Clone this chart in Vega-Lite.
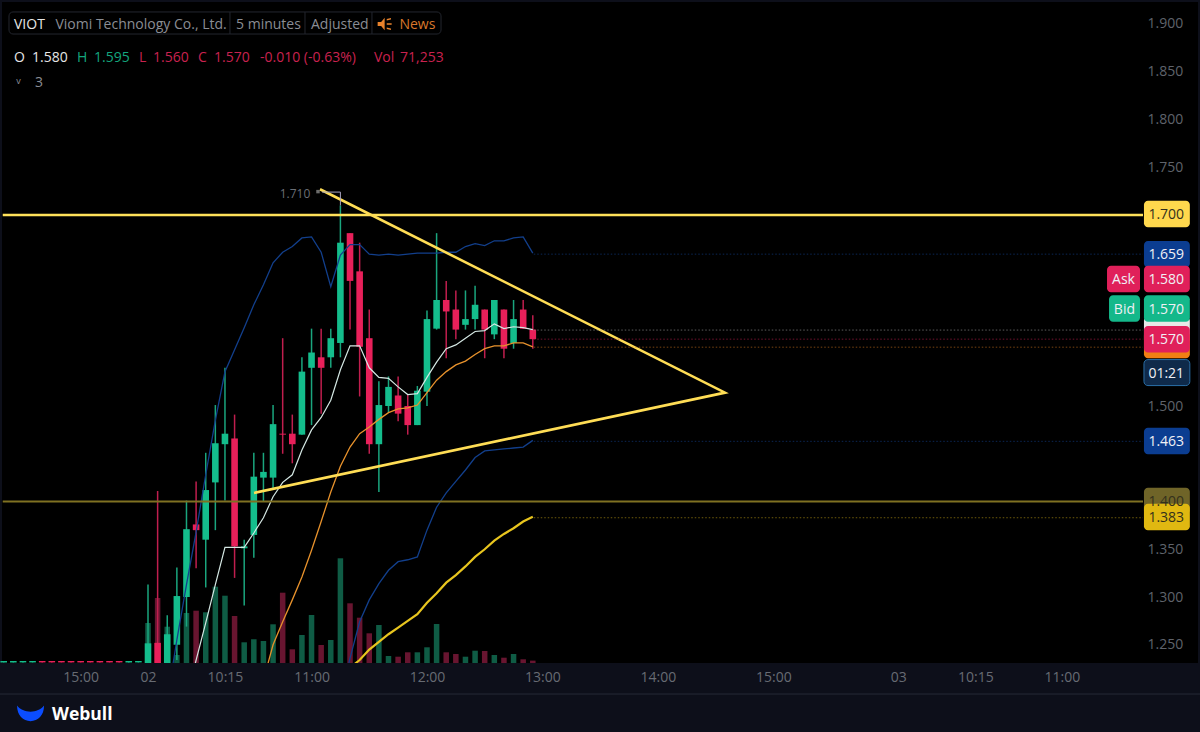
{"$schema":"https://vega.github.io/schema/vega-lite/v6.json","width":1200,"height":732,"autosize":{"type":"none"},"padding":0,"background":"#0d0f1a",
"config":{"view":{"fill":"#000000","stroke":"#0d0f1a","strokeWidth":4},"font":"Open Sans","scale":{"continuousPadding":0},"axis":{"title":null}},
"data":{"values":[
{"i":-15,"o":1.2315,"h":1.233,"l":1.2315,"c":1.233},{"i":-14,"o":1.2315,"h":1.233,"l":1.2315,"c":1.233},{"i":-13,"o":1.2315,"h":1.233,"l":1.2315,"c":1.233},{"i":-12,"o":1.2315,"h":1.233,"l":1.2315,"c":1.233},{"i":-11,"o":1.233,"h":1.233,"l":1.2315,"c":1.2315},{"i":-10,"o":1.233,"h":1.233,"l":1.2315,"c":1.2315},{"i":-9,"o":1.233,"h":1.233,"l":1.2315,"c":1.2315},{"i":-8,"o":1.233,"h":1.233,"l":1.2315,"c":1.2315},{"i":-7,"o":1.233,"h":1.233,"l":1.2315,"c":1.2315},{"i":-6,"o":1.233,"h":1.233,"l":1.2315,"c":1.2315},{"i":-5,"o":1.233,"h":1.233,"l":1.2315,"c":1.2315},{"i":-4,"o":1.233,"h":1.233,"l":1.2315,"c":1.2315},{"i":-3,"o":1.233,"h":1.233,"l":1.2315,"c":1.2315},{"i":-2,"o":1.2315,"h":1.233,"l":1.2315,"c":1.233},{"i":-1,"o":1.2315,"h":1.233,"l":1.2315,"c":1.233},
{"i":0,"o":1.2,"h":1.313,"l":1.2,"c":1.2515,"v":1200000},
{"i":1,"o":1.252,"h":1.411,"l":1.2,"c":1.2,"v":1950000},
{"i":2,"o":1.2,"h":1.281,"l":1.2,"c":1.261,"v":1089000,"u":1.192},
{"i":3,"o":1.25,"h":1.331,"l":1.234,"c":1.301,"v":240000,"u":1.255},
{"i":4,"o":1.3,"h":1.401,"l":1.269,"c":1.371,"v":1500000,"u":1.313,"w":1.192},
{"i":5,"o":1.376,"h":1.421,"l":1.33,"c":1.37,"v":1569000,"u":1.368,"w":1.234},
{"i":6,"o":1.36,"h":1.451,"l":1.31,"c":1.412,"v":1521000,"u":1.428,"w":1.273},
{"i":7,"o":1.42,"h":1.501,"l":1.37,"c":1.461,"v":2289000,"u":1.485,"w":1.313},
{"i":8,"o":1.46,"h":1.54,"l":1.401,"c":1.471,"v":2019000,"u":1.536,"w":1.352},
{"i":9,"o":1.466,"h":1.491,"l":1.32,"c":1.353,"v":1410000,"u":1.559,"w":1.352},
{"i":10,"o":1.351,"h":1.36,"l":1.291,"c":1.353,"v":621000,"u":1.582,"w":1.352},
{"i":11,"o":1.365,"h":1.451,"l":1.341,"c":1.426,"v":711000,"u":1.606,"w":1.367},
{"i":12,"o":1.425,"h":1.451,"l":1.4,"c":1.431,"v":660000,"u":1.627,"w":1.383,"m":1.213},
{"i":13,"o":1.425,"h":1.501,"l":1.414,"c":1.481,"v":1161000,"u":1.65,"w":1.405,"m":1.25},
{"i":14,"o":1.471,"h":1.571,"l":1.45,"c":1.47,"v":2109000,"u":1.661,"w":1.42,"m":1.274},
{"i":15,"o":1.471,"h":1.491,"l":1.44,"c":1.46,"v":411000,"u":1.667,"w":1.428,"m":1.297},
{"i":16,"o":1.47,"h":1.551,"l":1.47,"c":1.536,"v":840000,"u":1.676,"w":1.454,"m":1.321},
{"i":17,"o":1.54,"h":1.581,"l":1.48,"c":1.556,"v":1440000,"u":1.677,"w":1.475,"m":1.349},
{"i":18,"o":1.551,"h":1.581,"l":1.492,"c":1.54,"v":540000,"u":1.661,"w":1.488,"m":1.379},
{"i":19,"o":1.551,"h":1.581,"l":1.54,"c":1.571,"v":690000,"u":1.625,"w":1.506,"m":1.41},
{"i":20,"o":1.566,"h":1.71,"l":1.551,"c":1.671,"v":3141000,"u":1.658,"w":1.538,"m":1.437,"d":1.192,"s":1.208},
{"i":21,"o":1.681,"h":1.681,"l":1.58,"c":1.631,"v":1791000,"u":1.669,"w":1.563,"m":1.457,"d":1.236,"s":1.226},
{"i":22,"o":1.641,"h":1.671,"l":1.51,"c":1.562,"v":1359000,"u":1.669,"w":1.563,"m":1.471,"d":1.274,"s":1.234},
{"i":23,"o":1.571,"h":1.601,"l":1.45,"c":1.46,"v":891000,"u":1.659,"w":1.54,"m":1.478,"d":1.297,"s":1.245},
{"i":24,"o":1.46,"h":1.526,"l":1.41,"c":1.501,"v":1140000,"u":1.658,"w":1.53,"m":1.486,"d":1.314,"s":1.253},
{"i":25,"o":1.5,"h":1.531,"l":1.493,"c":1.52,"v":210000,"u":1.659,"w":1.529,"m":1.493,"d":1.328,"s":1.261},
{"i":26,"o":1.511,"h":1.531,"l":1.484,"c":1.492,"v":189000,"u":1.658,"w":1.52,"m":1.497,"d":1.337,"s":1.268},
{"i":27,"o":1.5,"h":1.512,"l":1.47,"c":1.48,"v":321000,"u":1.659,"w":1.512,"m":1.498,"d":1.339,"s":1.275},
{"i":28,"o":1.48,"h":1.521,"l":1.48,"c":1.516,"v":321000,"u":1.66,"w":1.513,"m":1.501,"d":1.342,"s":1.282},
{"i":29,"o":1.515,"h":1.6,"l":1.5,"c":1.591,"v":471000,"u":1.66,"w":1.53,"m":1.514,"d":1.37,"s":1.294},
{"i":30,"o":1.581,"h":1.681,"l":1.58,"c":1.611,"v":1170000,"u":1.66,"w":1.546,"m":1.527,"d":1.394,"s":1.304},
{"i":31,"o":1.611,"h":1.631,"l":1.55,"c":1.599,"v":321000,"u":1.661,"w":1.56,"m":1.536,"d":1.409,"s":1.315},
{"i":32,"o":1.601,"h":1.621,"l":1.57,"c":1.58,"v":270000,"u":1.661,"w":1.564,"m":1.543,"d":1.421,"s":1.323},
{"i":33,"o":1.585,"h":1.621,"l":1.58,"c":1.591,"v":189000,"u":1.667,"w":1.571,"m":1.547,"d":1.433,"s":1.332},
{"i":34,"o":1.591,"h":1.626,"l":1.58,"c":1.606,"v":369000,"u":1.67,"w":1.578,"m":1.554,"d":1.446,"s":1.342},
{"i":35,"o":1.601,"h":1.601,"l":1.55,"c":1.58,"v":360000,"u":1.668,"w":1.579,"m":1.56,"d":1.453,"s":1.35},
{"i":36,"o":1.575,"h":1.611,"l":1.57,"c":1.611,"v":240000,"u":1.673,"w":1.586,"m":1.563,"d":1.454,"s":1.359},
{"i":37,"o":1.601,"h":1.601,"l":1.55,"c":1.56,"v":159000,"u":1.673,"w":1.581,"m":1.563,"d":1.455,"s":1.366},
{"i":38,"o":1.566,"h":1.611,"l":1.56,"c":1.591,"v":270000,"u":1.676,"w":1.583,"m":1.566,"d":1.456,"s":1.372},
{"i":39,"o":1.601,"h":1.611,"l":1.581,"c":1.581,"v":111000,"u":1.677,"w":1.582,"m":1.566,"d":1.457,"s":1.379},
{"i":40,"o":1.58,"h":1.595,"l":1.56,"c":1.57,"v":71253,"u":1.66,"w":1.58,"m":1.562,"d":1.464,"s":1.384}
]},
"resolve":{"scale":{"y":"independent"}},
"layer":[
{"transform":[{"filter":"isValid(datum.v)"}],"mark":{"type":"bar","size":5.5},
 "encoding":{"x":{"field":"i","type":"quantitative","scale":{"domain":[-15.385,109.356]},"title":null,
   "axis":{"title":null,"values":[-7,0,8,17,29,41,53,65,78,86,95],"labelExpr":"{'-7':'15:00','0':'02','8':'10:15','17':'11:00','29':'12:00','41':'13:00','53':'14:00','65':'15:00','78':'03','86':'10:15','95':'11:00'}[datum.value]","orient":"bottom","offset":-62,"zindex":1,"domain":false,"ticks":false,"grid":false,"tickSize":0,"labelPadding":0,"labelFont":"Open Sans","labelFontSize":14,"labelColor":"#676b73","labelOverlap":false,"labelFlush":false}},
  "y":{"field":"v","type":"quantitative","scale":{"domain":[-2070000,19890000]},"axis":null},
  "y2":{"datum":0},
  "color":{"condition":{"test":"datum.c>=datum.o","value":"#0f5c45"},"value":"#681530"}}},
{"layer":[
 {"mark":{"type":"rule","strokeWidth":1.5},
  "encoding":{"x":{"field":"i","type":"quantitative","scale":{"domain":[-15.385,109.356]}},
   "y":{"field":"h","type":"quantitative","scale":{"domain":[1.15864,1.92513]},"title":null,
     "axis":{"title":null,"orient":"right","offset":-53,"values":[1.25,1.3,1.35,1.5,1.75,1.8,1.85,1.9],"format":".3f","domain":false,"ticks":false,"grid":false,"tickSize":0,"labelPadding":0,"labelFont":"Open Sans","labelFontSize":14,"labelColor":"#5f636b","labelFlush":false,"labelOverlap":false}},
   "y2":{"field":"l"},
   "color":{"condition":{"test":"datum.c>=datum.o","value":"#1aa67e"},"value":"#c01e4e"}}},
 {"mark":{"type":"bar","size":6.6},
  "encoding":{"x":{"field":"i","type":"quantitative","scale":{"domain":[-15.385,109.356]}},
   "y":{"field":"o","type":"quantitative","scale":{"domain":[1.15864,1.92513]}},
   "y2":{"field":"c"},
   "color":{"condition":{"test":"datum.c>=datum.o","value":"#14bd8c"},"value":"#e8205a"}}},
 {"mark":{"type":"line","color":"#123f8c","strokeWidth":1.3},"encoding":{"x":{"field":"i","type":"quantitative","scale":{"domain":[-15.385,109.356]}},"y":{"field":"u","type":"quantitative","scale":{"domain":[1.15864,1.92513]}}}},
 {"mark":{"type":"line","color":"#123f8c","strokeWidth":1.3},"encoding":{"x":{"field":"i","type":"quantitative","scale":{"domain":[-15.385,109.356]}},"y":{"field":"d","type":"quantitative","scale":{"domain":[1.15864,1.92513]}}}},
 {"mark":{"type":"line","color":"#e8922c","strokeWidth":1.3},"encoding":{"x":{"field":"i","type":"quantitative","scale":{"domain":[-15.385,109.356]}},"y":{"field":"m","type":"quantitative","scale":{"domain":[1.15864,1.92513]}}}},
 {"mark":{"type":"line","color":"#d5e8e4","strokeWidth":1.2},"encoding":{"x":{"field":"i","type":"quantitative","scale":{"domain":[-15.385,109.356]}},"y":{"field":"w","type":"quantitative","scale":{"domain":[1.15864,1.92513]}}}},
 {"mark":{"type":"line","color":"#e8c51e","strokeWidth":2.2},"encoding":{"x":{"field":"i","type":"quantitative","scale":{"domain":[-15.385,109.356]}},"y":{"field":"s","type":"quantitative","scale":{"domain":[1.15864,1.92513]}}}},
 {"data":{"values":[{"level":1.7}]},"mark":{"type":"rule","color":"#ffe15a","strokeWidth":2.5},"encoding":{"x":{"datum":-15.1,"type":"quantitative","scale":{"domain":[-15.385,109.356]}},"x2":{"datum":103.43},"y":{"field":"level","type":"quantitative","scale":{"domain":[1.15864,1.92513]}}}},
 {"data":{"values":[{"level":1.4}]},"mark":{"type":"rule","color":"#7f7122","strokeWidth":2},"encoding":{"x":{"datum":-15.1,"type":"quantitative","scale":{"domain":[-15.385,109.356]}},"x2":{"datum":103.43},"y":{"field":"level","type":"quantitative","scale":{"domain":[1.15864,1.92513]}}}},
 {"data":{"values":[{"a":17.88,"p":1.727,"n":1},{"a":59.98,"p":1.514,"n":2},{"a":11.02,"p":1.409,"n":3}]},"mark":{"type":"line","color":"#ffdd55","strokeWidth":2.6},"encoding":{"x":{"field":"a","type":"quantitative","scale":{"domain":[-15.385,109.356]}},"y":{"field":"p","type":"quantitative","scale":{"domain":[1.15864,1.92513]}},"order":{"field":"n"}}},
 {"data":{"values":[{"a":18.1,"p":1.724,"n":1},{"a":20,"p":1.724,"n":2},{"a":20,"p":1.71,"n":3}]},"mark":{"type":"line","color":"#a8a4c0","strokeWidth":1},"encoding":{"x":{"field":"a","type":"quantitative","scale":{"domain":[-15.385,109.356]}},"y":{"field":"p","type":"quantitative","scale":{"domain":[1.15864,1.92513]}},"order":{"field":"n"}}},
 {"data":{"values":[{"a":17.67,"p":1.7245}]},"mark":{"type":"point","shape":"square","filled":true,"size":12,"color":"#9a9a9a"},"encoding":{"x":{"field":"a","type":"quantitative","scale":{"domain":[-15.385,109.356]}},"y":{"field":"p","type":"quantitative","scale":{"domain":[1.15864,1.92513]}}}},
 {"data":{"values":[{"a":15.28,"p":1.7225,"label":"1.710"}]},"mark":{"type":"text","fontSize":12,"font":"Open Sans","color":"#6b6f76"},"encoding":{"x":{"field":"a","type":"quantitative","scale":{"domain":[-15.385,109.356]}},"y":{"field":"p","type":"quantitative","scale":{"domain":[1.15864,1.92513]}},"text":{"field":"label"}}},
 {"data":{"values":[{"level":1.659,"k":"blue"},{"level":1.5795,"k":"white"},{"level":1.57,"k":"red"},{"level":1.5616,"k":"orange"},{"level":1.463,"k":"blue"},{"level":1.383,"k":"yellow"}]},
  "mark":{"type":"rule","strokeWidth":1,"strokeDash":[1.5,2],"opacity":0.6},
  "encoding":{"x":{"datum":40.1,"type":"quantitative","scale":{"domain":[-15.385,109.356]}},"x2":{"datum":103.43},"y":{"field":"level","type":"quantitative","scale":{"domain":[1.15864,1.92513]}},
   "color":{"condition":[{"test":"datum.k==='blue'","value":"#123f8c"},{"test":"datum.k==='white'","value":"#9a9a9a"},{"test":"datum.k==='red'","value":"#c01e4e"},{"test":"datum.k==='orange'","value":"#c9701c"}],"value":"#b89a14"}}},
 {"data":{"values":[{"band":"footer"}]},"mark":{"type":"rect","color":"#0d0f1a"},"encoding":{"x":{"datum":-15.385,"type":"quantitative","scale":{"domain":[-15.385,109.356]}},"x2":{"datum":109.356},"y":{"datum":1.2309,"type":"quantitative","scale":{"domain":[1.15864,1.92513]}},"y2":{"datum":1.15864}}},
 {"data":{"values":[{"level":1.1984}]},"mark":{"type":"rule","color":"#262a36","strokeWidth":1},"encoding":{"x":{"datum":-15.385,"type":"quantitative","scale":{"domain":[-15.385,109.356]}},"x2":{"datum":109.356},"y":{"field":"level","type":"quantitative","scale":{"domain":[1.15864,1.92513]}}}},
 {"data":{"values":[{"a":-12.21,"p":1.1785}]},"mark":{"type":"point","filled":true,"size":729,"color":"#0b4dff","opacity":1,"shape":"M-1,-.55 C-.55,.05 .55,.05 1,-.55 C1,.2 .55,.6 0,.6 C-.55,.6 -1,.2 -1,-.55 Z"},"encoding":{"x":{"field":"a","type":"quantitative","scale":{"domain":[-15.385,109.356]}},"y":{"field":"p","type":"quantitative","scale":{"domain":[1.15864,1.92513]}}}},
 {"data":{"values":[{"a":-9.98,"p":1.1768,"label":"Webull"}]},"mark":{"type":"text","align":"left","baseline":"middle","font":"Open Sans","fontWeight":"bold","fontSize":17.5,"color":"#ffffff"},"encoding":{"x":{"field":"a","type":"quantitative","scale":{"domain":[-15.385,109.356]}},"y":{"field":"p","type":"quantitative","scale":{"domain":[1.15864,1.92513]}},"text":{"field":"label"}}},
 {"data":{"values":[{"x0":-14.45,"x1":30.46}]},"mark":{"type":"rect","fillOpacity":0,"stroke":"#23262e","strokeWidth":1,"cornerRadius":4},"encoding":{"x":{"field":"x0","type":"quantitative","scale":{"domain":[-15.385,109.356]}},"x2":{"field":"x1"},"y":{"datum":1.8895,"type":"quantitative","scale":{"domain":[1.15864,1.92513]}},"y2":{"datum":1.9126}}},
 {"data":{"values":[{"a":8.52},{"a":16.32},{"a":23.28}]},"mark":{"type":"rule","color":"#23262e","strokeWidth":1},"encoding":{"x":{"field":"a","type":"quantitative","scale":{"domain":[-15.385,109.356]}},"y":{"datum":1.8895,"type":"quantitative","scale":{"domain":[1.15864,1.92513]}},"y2":{"datum":1.9126}}},
 {"data":{"values":[{"a":-13.93,"p":1.899,"label":"VIOT"},{"a":-13.93,"p":1.8644,"label":"O"},{"a":-12.06,"p":1.8644,"label":"1.580"}]},"mark":{"type":"text","align":"left","baseline":"middle","font":"Open Sans","fontSize":14,"color":"#e6e6e6"},"encoding":{"x":{"field":"a","type":"quantitative","scale":{"domain":[-15.385,109.356]}},"y":{"field":"p","type":"quantitative","scale":{"domain":[1.15864,1.92513]}},"text":{"field":"label"}}},
 {"data":{"values":[{"a":-9.62,"p":1.899,"label":"Viomi Technology Co., Ltd."},{"a":9.15,"p":1.899,"label":"5 minutes"},{"a":16.94,"p":1.899,"label":"Adjusted"},{"a":-11.75,"p":1.8383,"label":"3"}]},"mark":{"type":"text","align":"left","baseline":"middle","font":"Open Sans","fontSize":14,"color":"#8a8d94"},"encoding":{"x":{"field":"a","type":"quantitative","scale":{"domain":[-15.385,109.356]}},"y":{"field":"p","type":"quantitative","scale":{"domain":[1.15864,1.92513]}},"text":{"field":"label"}}},
 {"data":{"values":[{"a":-13.7,"p":1.84,"label":"v"}]},"mark":{"type":"text","align":"left","baseline":"middle","font":"Open Sans","fontSize":9,"color":"#8a8d94"},"encoding":{"x":{"field":"a","type":"quantitative","scale":{"domain":[-15.385,109.356]}},"y":{"field":"p","type":"quantitative","scale":{"domain":[1.15864,1.92513]}},"text":{"field":"label"}}},
 {"data":{"values":[{"a":-7.38,"p":1.8644,"label":"H"},{"a":-5.61,"p":1.8644,"label":"1.595"}]},"mark":{"type":"text","align":"left","baseline":"middle","font":"Open Sans","fontSize":14,"color":"#14a67d"},"encoding":{"x":{"field":"a","type":"quantitative","scale":{"domain":[-15.385,109.356]}},"y":{"field":"p","type":"quantitative","scale":{"domain":[1.15864,1.92513]}},"text":{"field":"label"}}},
 {"data":{"values":[{"a":-0.94,"p":1.8644,"label":"L"},{"a":0.52,"p":1.8644,"label":"1.560"},{"a":5.2,"p":1.8644,"label":"C"},{"a":6.86,"p":1.8644,"label":"1.570"},{"a":11.64,"p":1.8644,"label":"-0.010 (-0.63%)"},{"a":23.49,"p":1.8644,"label":"Vol"},{"a":26.2,"p":1.8644,"label":"71,253"}]},"mark":{"type":"text","align":"left","baseline":"middle","font":"Open Sans","fontSize":14,"color":"#c9224f"},"encoding":{"x":{"field":"a","type":"quantitative","scale":{"domain":[-15.385,109.356]}},"y":{"field":"p","type":"quantitative","scale":{"domain":[1.15864,1.92513]}},"text":{"field":"label"}}},
 {"data":{"values":[{"a":26.14,"p":1.899,"label":"News"}]},"mark":{"type":"text","align":"left","baseline":"middle","font":"Open Sans","fontSize":14,"color":"#d9772a"},"encoding":{"x":{"field":"a","type":"quantitative","scale":{"domain":[-15.385,109.356]}},"y":{"field":"p","type":"quantitative","scale":{"domain":[1.15864,1.92513]}},"text":{"field":"label"}}},
 {"data":{"values":[{"a":24.6,"p":1.9}]},"mark":{"type":"point","filled":true,"size":196,"color":"#e8822c","opacity":1,"shape":"M-1,-.3 L-.5,-.3 L0,-.9 L0,.9 L-.5,.3 L-1,.3 Z M.3,-.7 L.9,-.85 L.9,-.65 L.3,-.5 Z M.3,-.1 L1,-.1 L1,.1 L.3,.1 Z M.3,.5 L.9,.65 L.9,.85 L.3,.7 Z"},"encoding":{"x":{"field":"a","type":"quantitative","scale":{"domain":[-15.385,109.356]}},"y":{"field":"p","type":"quantitative","scale":{"domain":[1.15864,1.92513]}}}},
 {"data":{"values":[
   {"level":1.5795,"t":"white"},{"level":1.5639,"t":"orange"},{"level":1.701,"t":"yellow"},{"level":1.659,"t":"blue"},{"level":1.633,"t":"red"},{"level":1.602,"t":"green"},{"level":1.57,"t":"red"},{"level":1.4634,"t":"blue"},{"level":1.4005,"t":"olive"},{"level":1.3838,"t":"gold"}]},
  "mark":{"type":"bar","orient":"horizontal","size":26.5,"cornerRadius":4},
  "encoding":{"x":{"datum":103.53,"type":"quantitative","scale":{"domain":[-15.385,109.356]}},"x2":{"datum":108.3},"y":{"field":"level","type":"quantitative","scale":{"domain":[1.15864,1.92513]}},
   "color":{"condition":[{"test":"datum.t==='white'","value":"#e8e8e8"},{"test":"datum.t==='orange'","value":"#f07f13"},{"test":"datum.t==='yellow'","value":"#ffd84d"},{"test":"datum.t==='blue'","value":"#0b3d91"},{"test":"datum.t==='red'","value":"#e0205a"},{"test":"datum.t==='green'","value":"#14b88a"},{"test":"datum.t==='olive'","value":"#6f6428"}],"value":"#e0b811"}}},
 {"data":{"values":[{"x0":99.69,"x1":103.12,"level":1.633,"t":"red"},{"x0":99.9,"x1":103.12,"level":1.602,"t":"green"}]},"mark":{"type":"bar","orient":"horizontal","size":26.5,"cornerRadius":4},
  "encoding":{"x":{"field":"x0","type":"quantitative","scale":{"domain":[-15.385,109.356]}},"x2":{"field":"x1"},"y":{"field":"level","type":"quantitative","scale":{"domain":[1.15864,1.92513]}},
   "color":{"condition":{"test":"datum.t==='red'","value":"#e0205a"},"value":"#14b88a"}}},
 {"data":{"values":[{"level":1.535}]},"mark":{"type":"bar","orient":"horizontal","size":26,"cornerRadius":4,"color":"#0f2a4a","stroke":"#2a6ea6","strokeWidth":1},
  "encoding":{"x":{"datum":103.53,"type":"quantitative","scale":{"domain":[-15.385,109.356]}},"x2":{"datum":108.3},"y":{"field":"level","type":"quantitative","scale":{"domain":[1.15864,1.92513]}}}},
 {"data":{"values":[{"a":105.85,"level":1.658,"label":"1.659"},{"a":105.85,"level":1.632,"label":"1.580"},{"a":101.4,"level":1.632,"label":"Ask"},{"a":105.85,"level":1.601,"label":"1.570"},{"a":101.5,"level":1.601,"label":"Bid"},{"a":105.85,"level":1.569,"label":"1.570"},{"a":105.85,"level":1.534,"label":"01:21"},{"a":105.85,"level":1.4624,"label":"1.463"}]},
  "mark":{"type":"text","font":"Open Sans","fontSize":14,"baseline":"middle","color":"#f0f0f5"},
  "encoding":{"x":{"field":"a","type":"quantitative","scale":{"domain":[-15.385,109.356]}},"y":{"field":"level","type":"quantitative","scale":{"domain":[1.15864,1.92513]}},"text":{"field":"label"}}},
 {"data":{"values":[{"a":105.85,"level":1.7,"label":"1.700"},{"a":105.85,"level":1.3828,"label":"1.383"},{"a":105.85,"level":1.3995,"label":"1.400"}]},
  "mark":{"type":"text","font":"Open Sans","fontSize":14,"baseline":"middle","color":"#33301c"},
  "encoding":{"x":{"field":"a","type":"quantitative","scale":{"domain":[-15.385,109.356]}},"y":{"field":"level","type":"quantitative","scale":{"domain":[1.15864,1.92513]}},"text":{"field":"label"}}}
]}
]}
